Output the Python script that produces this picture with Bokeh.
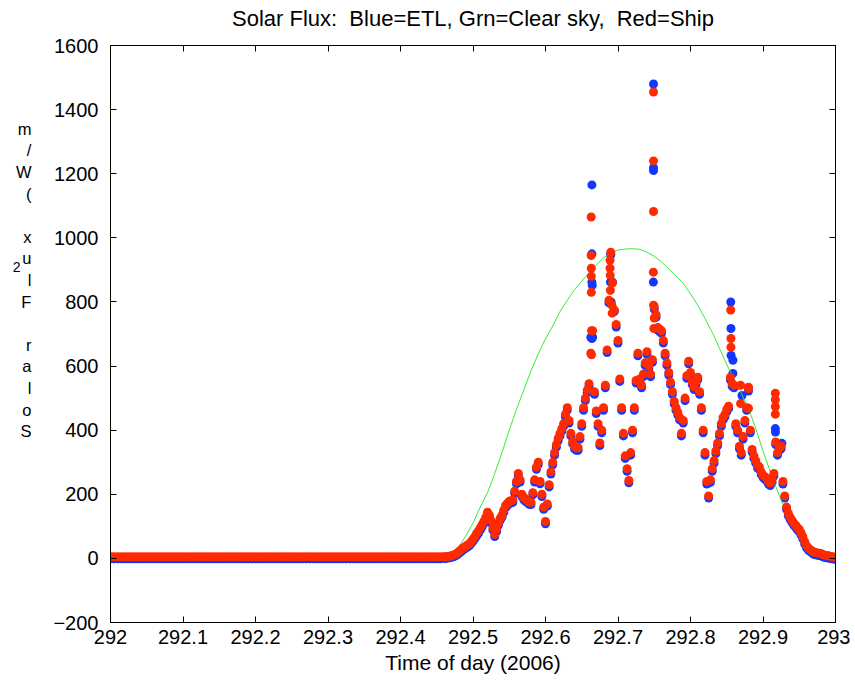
import numpy as np
from bokeh.plotting import figure
from bokeh.models import Range1d, LinearAxis, FixedTicker, NumeralTickFormatter
from bokeh.embed import file_html
from bokeh.resources import INLINE

# ---------------- data ----------------
night_t = np.linspace(292.0, 292.455, 92)
red_night = [5, 5, 5, 5, 5, 5, 5, 5, 5, 5, 5, 5, 5, 5, 5, 5, 5, 5, 5, 5, 5, 5, 5,
             5, 5, 5, 5, 5, 5, 5, 5, 5, 5, 5, 5, 5, 5, 5, 5, 5, 5, 5, 5, 5, 5, 5,
             5, 5, 5, 5, 5, 5, 5, 5, 5, 5, 5, 5, 5, 5, 5, 5, 5, 5, 5, 5, 5, 5, 5,
             5, 5, 5, 5, 5, 5, 5, 5, 5, 5, 5, 5, 5, 5, 5, 5, 5, 5, 5, 5, 5, 5, 5]
blue_night = [-1, -1, -1, -1, -1, -1, -1, -1, -1, -1, -1, -1, -1, -1, -1, -1, -1, -1, -1, -1, -1, -1, -1,
              -1, -1, -1, -1, -1, -1, -1, -1, -1, -1, -1, -1, -1, -1, -1, -1, -1, -1, -1, -1, -1, -1, -1,
              -1, -1, -1, -1, -1, -1, -1, -1, -1, -1, -1, -1, -1, -1, -1, -1, -1, -1, -1, -1, -1, -1, -1,
              -1, -1, -1, -1, -1, -1, -1, -1, -1, -1, -1, -1, -1, -1, -1, -1, -1, -1, -1, -1, -1, -1, -1]

day_t = np.linspace(292.46, 293.0, 217)
red_day = [
    5, 5, 6, 7, 8, 10, 12, 15, 20, 25,
    30, 34, 38, 42, 45, 52, 60, 68, 78, 86,
    95, 105, 115, 128, 144, 135, 118, 95, 75, 90,
    110, 125, 135, 150, 165, 172, 178, 180, 182, 210,
    240, 265, 245, 200, 190, 185, 180, 176, 175, 205,
    245, 285, 300, 240, 200, 160, 115, 170, 230, 270,
    300, 330, 355, 375, 390, 405, 420, 450, 470, 430,
    390, 365, 350, 345, 345, 380, 420, 470, 500, 525,
    545, 640, 710, 520, 460, 420, 360, 400, 470, 540,
    650, 805, 955, 860, 775, 730, 680, 560, 470, 390,
    320, 280, 243, 330, 400, 470, 555, 640, 560, 540,
    575, 610, 645, 600, 575, 620, 785, 760, 720, 715,
    710, 680, 640, 610, 580, 550, 520, 490, 470, 455,
    440, 390, 430, 500, 570, 615, 580, 550, 535, 550,
    565, 520, 470, 400, 330, 240, 195, 245, 280, 305,
    335, 360, 390, 420, 440, 450, 465, 475, 565, 545,
    540, 420, 400, 350, 330, 380, 430, 470, 530, 400,
    340, 320, 305, 290, 285, 270, 260, 255, 250, 240,
    235, 245, 265, 363, 330, 345, 350, 240, 195, 160,
    140, 128, 119, 110, 104, 96, 90, 80, 68, 52,
    40, 33, 28, 24, 20, 18, 17, 16, 15, 12,
    10, 9, 8, 7, 5, 4, 3]
blue_day = [
    0, 0, 1, 2, 3, 5, 7, 10, 14, 19,
    24, 28, 32, 36, 39, 46, 53, 61, 70, 78,
    88, 98, 108, 120, 136, 128, 110, 88, 68, 83,
    103, 118, 128, 143, 158, 165, 171, 173, 175, 203,
    233, 258, 238, 193, 183, 178, 173, 169, 168, 198,
    238, 278, 293, 233, 193, 153, 108, 163, 223, 263,
    292, 322, 347, 367, 382, 397, 412, 442, 462, 422,
    382, 357, 342, 337, 337, 372, 412, 462, 492, 517,
    537, 690, 690, 512, 452, 412, 352, 392, 462, 532,
    642, 797, 947, 862, 770, 722, 672, 552, 462, 382,
    312, 272, 236, 322, 392, 462, 547, 632, 552, 532,
    567, 602, 637, 592, 567, 612, 777, 752, 712, 707,
    702, 672, 632, 602, 572, 542, 512, 482, 462, 447,
    432, 382, 422, 492, 562, 607, 572, 542, 527, 542,
    557, 512, 462, 392, 322, 232, 188, 237, 272, 297,
    327, 352, 382, 412, 432, 442, 457, 467, 557, 537,
    532, 412, 392, 342, 322, 372, 422, 462, 522, 392,
    332, 312, 297, 282, 277, 262, 252, 247, 242, 232,
    227, 237, 257, 355, 322, 337, 342, 232, 188, 153,
    133, 121, 112, 103, 97, 89, 83, 73, 61, 45,
    33, 26, 21, 17, 13, 11, 10, 9, 8, 5,
    3, 2, 1, 0, -1, -2, -3]

# isolated spike readings
red_extra_t = [292.6630, 292.6630, 292.6632, 292.6632, 292.6632, 292.6635, 292.6635,
               292.6890, 292.6890, 292.6893, 292.6895, 292.6915, 292.6920,
               292.7490, 292.7490, 292.7490, 292.7488, 292.7490, 292.7500, 292.7495,
               292.8555, 292.8558, 292.8558,
               292.8690, 292.8690, 292.8800, 292.8800,
               292.9170, 292.9170, 292.9170, 292.9170]
red_extra_v = [1065, 945, 905, 880, 830, 710, 635,
               930, 905, 883, 836, 790, 765,
               1455, 1240, 1082, 893, 790, 750, 717,
               775, 686, 659,
               540, 483, 534, 468,
               515, 495, 473, 450]
blue_extra_t = [292.6640, 292.6640, 292.6640, 292.6645, 292.6640,
                292.6900, 292.6895, 292.6905,
                292.7490, 292.7490, 292.7490, 292.7488,
                292.8555, 292.8558, 292.8560, 292.8585, 292.8585,
                292.8710,
                292.9170, 292.9172, 292.9260]
blue_extra_v = [1165, 950, 862, 852, 686,
                950, 862, 800,
                1480, 1219, 1210, 862,
                800, 717, 633, 618, 577,
                508,
                405, 394, 359]

clear_t = [292.46, 292.47, 292.48, 292.49, 292.50, 292.51, 292.52, 292.53, 292.54, 292.55,
           292.56, 292.57, 292.58, 292.59, 292.60, 292.61, 292.62, 292.63, 292.64, 292.65,
           292.66, 292.67, 292.68, 292.69, 292.70, 292.71, 292.72, 292.73, 292.74, 292.75,
           292.76, 292.77, 292.78, 292.79, 292.80, 292.81, 292.82, 292.83, 292.84, 292.85,
           292.86, 292.87, 292.88, 292.89, 292.90, 292.91, 292.92, 292.93, 292.94, 292.95,
           292.96, 292.97, 292.98, 292.99]
clear_v = [0, 12, 35, 70, 110, 160, 205, 265, 330, 400,
           465, 525, 585, 638, 685, 725, 770, 805, 838, 865,
           890, 915, 938, 952, 962, 965, 966, 964, 955, 942,
           925, 903, 880, 858, 825, 790, 748, 705, 655, 605,
           560, 515, 468, 405, 335, 270, 210, 155, 108, 72,
           40, 15, 3, 0]

x_ticks = [292.0, 292.1, 292.2, 292.3, 292.4, 292.5, 292.6, 292.7, 292.8, 292.9, 293.0]
x_tick_labels = ["292", "292.1", "292.2", "292.3", "292.4", "292.5", "292.6",
                 "292.7", "292.8", "292.9", "293"]
y_ticks = [-200, 0, 200, 400, 600, 800, 1000, 1200, 1400, 1600]

NB = "\u00a0"  # keeps the double spaces of the original title visible
title_text = "Solar Flux:" + NB + " Blue=ETL, Grn=Clear sky," + NB + " Red=Ship"
xlabel_text = "Time of day (2006)"
ylabel_chars = ["m", "/", "W", "(", " ", "x", "u", "l", "F", " ", "r", "a", "l", "o", "S"]
ylabel_sup = "2"

# ---------------- figure ----------------
FONT = "Liberation Sans"
W, H = 850, 680
ML, MR, MT, MB = 110, 15, 45, 58

p = figure(width=W, height=H, output_backend="svg", toolbar_location=None,
           x_range=Range1d(292.0, 293.0), y_range=Range1d(-200, 1600),
           min_border_left=ML, min_border_right=MR, min_border_top=MT, min_border_bottom=MB)
p.grid.visible = False
p.outline_line_color = "black"
p.outline_line_width = 1
p.background_fill_color = "white"
p.border_fill_color = "white"

RED = "#ff2a00"
BLUE = "#1238ff"
GREEN = "#33ee33"
SZ = 9

p.scatter(night_t, blue_night, size=SZ, color=BLUE, line_color=None)
p.scatter(day_t, blue_day, size=SZ, color=BLUE, line_color=None)
p.scatter(blue_extra_t, blue_extra_v, size=SZ, color=BLUE, line_color=None)
p.line(clear_t, clear_v, line_color=GREEN, line_width=1)
p.scatter(night_t, red_night, size=SZ, color=RED, line_color=None)
p.scatter(day_t, red_day, size=SZ, color=RED, line_color=None)
p.scatter(red_extra_t, red_extra_v, size=SZ, color=RED, line_color=None)


def style_axis(ax, show_labels=True):
    ax.axis_line_color = "black"
    ax.major_tick_line_color = "black"
    ax.major_tick_in = 6
    ax.major_tick_out = 0
    ax.minor_tick_line_color = None
    ax.major_label_text_font = FONT
    ax.major_label_text_color = "black"
    if show_labels:
        ax.major_label_text_font_size = "20px"
    else:
        ax.major_label_text_font_size = "0px"
        ax.major_label_text_color = None
        ax.major_label_standoff = 0


xa = p.xaxis[0]
xa.ticker = FixedTicker(ticks=x_ticks, minor_ticks=[])
xa.formatter = NumeralTickFormatter(format="0.[0]")
xa.major_label_overrides = dict(zip(x_ticks, x_tick_labels))
style_axis(xa)
xa.major_label_standoff = 7
xa.axis_label = xlabel_text
xa.axis_label_text_font = FONT
xa.axis_label_text_font_size = "21px"
xa.axis_label_text_font_style = "normal"
xa.axis_label_text_color = "black"
xa.axis_label_standoff = 4

ya = p.yaxis[0]
ya.ticker = FixedTicker(ticks=y_ticks, minor_ticks=[])
style_axis(ya)
ya.major_label_standoff = 12
# stacked (character per line) y label, as in the reference
ya.axis_label = "\n".join(ylabel_chars + [" "] * 5)
ya.axis_label_orientation = "horizontal"
ya.axis_label_text_font = FONT
ya.axis_label_text_font_size = "16.5px"
ya.axis_label_text_font_style = "normal"
ya.axis_label_text_color = "black"
ya.axis_label_standoff = 19

# outer left axis carrying only the superscript "2" of the unit
sup_ax = LinearAxis(ticker=FixedTicker(ticks=[], minor_ticks=[]))
sup_ax.axis_line_color = None
sup_ax.major_tick_line_color = None
sup_ax.minor_tick_line_color = None
sup_ax.major_label_text_font_size = "0px"
sup_ax.major_label_text_color = None
sup_ax.major_label_standoff = 0
sup_ax.major_tick_in = 0
sup_ax.major_tick_out = 0
sup_ax.axis_label = "\n".join([ylabel_sup] + [" "] * 7)
sup_ax.axis_label_orientation = "horizontal"
sup_ax.axis_label_text_font = FONT
sup_ax.axis_label_text_font_size = "14px"
sup_ax.axis_label_text_font_style = "normal"
sup_ax.axis_label_text_color = "black"
sup_ax.axis_label_standoff = -8
p.add_layout(sup_ax, "left")

# top axis: inward ticks (box) and the chart title as its label
top = LinearAxis(ticker=FixedTicker(ticks=x_ticks, minor_ticks=[]))
style_axis(top, False)
top.axis_label = title_text
top.axis_label_text_font = FONT
top.axis_label_text_font_size = "22px"
top.axis_label_text_font_style = "normal"
top.axis_label_text_color = "black"
top.axis_label_standoff = 15
p.add_layout(top, "above")

right = LinearAxis(ticker=FixedTicker(ticks=y_ticks, minor_ticks=[]))
style_axis(right, False)
p.add_layout(right, "right")

open("out.html", "w").write(file_html(p, INLINE))
